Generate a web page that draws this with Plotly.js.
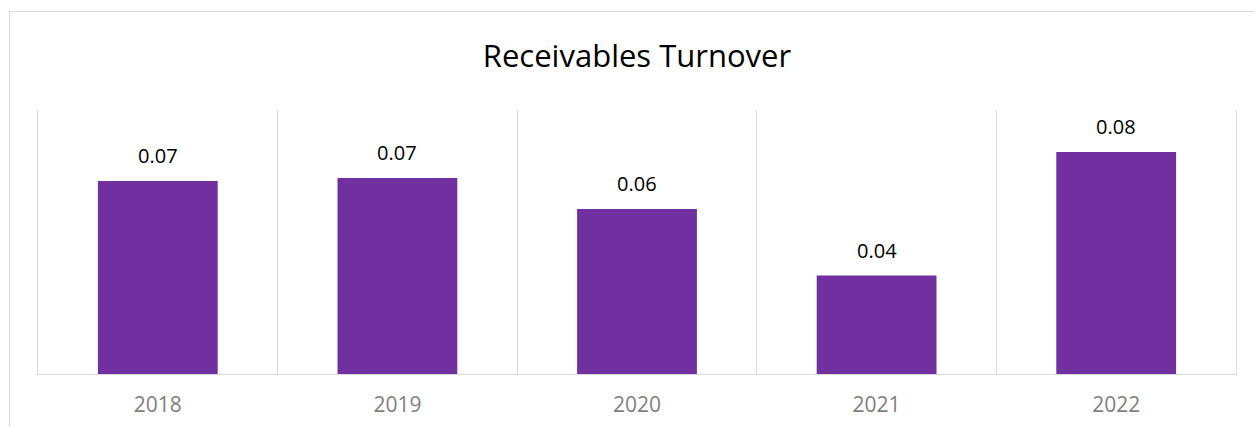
<!DOCTYPE html>
<html>
<head>
<meta charset="utf-8">
<script src="https://cdn.plot.ly/plotly-3.0.1.min.js"></script>
<style>
html,body{margin:0;padding:0;background:#fff;}
#wrap{position:relative;width:1254px;height:427px;}
#chart{width:1254px;height:427px;}
#frame{position:absolute;left:9px;top:11px;width:1300px;height:500px;border-left:1px solid #d9d9d9;border-top:1px solid #d9d9d9;pointer-events:none;}
</style>
</head>
<body>
<div id="wrap"><div id="chart"></div><div id="frame"></div></div>
<script>
const years = ["2018", "2019", "2020", "2021", "2022"];
const turnover = [0.0731, 0.0742, 0.0625, 0.0373, 0.0841];
const chartTitle = "Receivables Turnover";

const FONT = "'Open Sans', Lato, sans-serif";

const trace = {
  type: "bar",
  x: years,
  y: turnover,
  marker: {color: "#7030a0"},
  hoverinfo: "x+y"
};

// category axis: annotations positioned by category index
const annotations = years.map((yr, i) => ({
  x: i, y: turnover[i], xref: "x", yref: "y",
  text: turnover[i].toFixed(2),
  showarrow: false, yanchor: "bottom", yshift: 10,
  font: {family: FONT, size: 20, color: "#000000"}
}));

const layout = {
  width: 1254, height: 427,
  margin: {l: 38, r: 18, t: 110, b: 53},
  paper_bgcolor: "#ffffff", plot_bgcolor: "#ffffff",
  showlegend: false,
  bargap: 0.5,
  title: {
    text: chartTitle,
    font: {family: FONT, size: 31, color: "#000000"},
    x: 0.5, xanchor: "center", xref: "paper",
    y: 1 - 56/427, yanchor: "middle", yref: "container"
  },
  xaxis: {
    type: "category",
    categoryorder: "array", categoryarray: years,
    tickson: "boundaries",
    showgrid: true, gridcolor: "#d9d9d9", gridwidth: 1,
    showline: true, linecolor: "#d9d9d9", linewidth: 1,
    ticks: "",
    tickfont: {family: FONT, size: 21, color: "#7f7f7f"},
    ticklabelstandoff: 12,
    fixedrange: true
  },
  yaxis: {
    range: [0, 0.1],
    showgrid: false, zeroline: false,
    showline: true, mirror: true, linecolor: "#d9d9d9", linewidth: 1,
    showticklabels: false, ticks: "",
    fixedrange: true
  },
  annotations: annotations
};

Plotly.newPlot("chart", [trace], layout, {displayModeBar: false, staticPlot: true});
</script>
</body>
</html>
